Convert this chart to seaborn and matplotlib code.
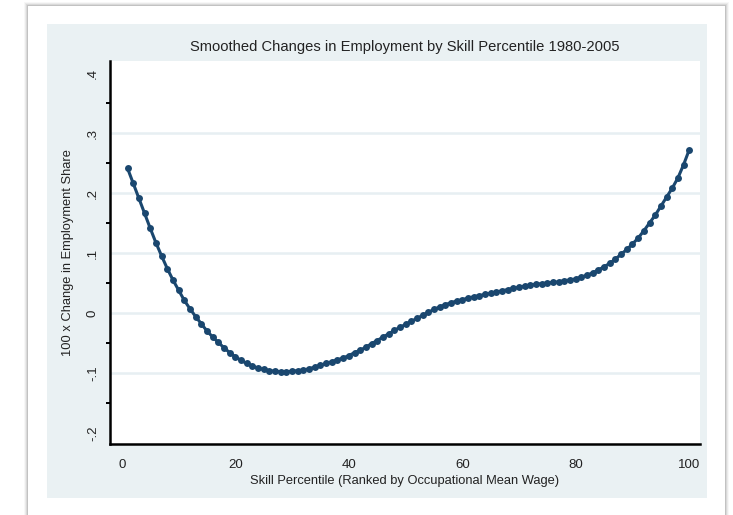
import numpy as np
import pandas as pd
import matplotlib
matplotlib.use("Agg")
import matplotlib.pyplot as plt
from matplotlib.patches import Rectangle
from matplotlib.ticker import MultipleLocator, FixedLocator
import seaborn as sns

# Skill percentile (1..100) and smoothed change in employment share (x100)
percentile = list(range(1, 101))
change_share = [
    0.241, 0.216, 0.191, 0.166, 0.141, 0.117, 0.095, 0.074, 0.055, 0.038,
    0.021, 0.007, -0.006, -0.018, -0.030, -0.040, -0.049, -0.058, -0.066, -0.073,
    -0.079, -0.084, -0.088, -0.092, -0.094, -0.096, -0.097, -0.098, -0.098, -0.097,
    -0.096, -0.095, -0.093, -0.090, -0.087, -0.084, -0.081, -0.078, -0.075, -0.071,
    -0.066, -0.062, -0.057, -0.051, -0.046, -0.040, -0.035, -0.029, -0.024, -0.019,
    -0.014, -0.009, -0.004, 0.001, 0.006, 0.010, 0.014, 0.017, 0.020, 0.022,
    0.025, 0.027, 0.029, 0.031, 0.033, 0.035, 0.037, 0.039, 0.041, 0.043,
    0.045, 0.046, 0.048, 0.049, 0.050, 0.051, 0.052, 0.054, 0.055, 0.057,
    0.060, 0.063, 0.067, 0.072, 0.077, 0.083, 0.090, 0.098, 0.106, 0.115,
    0.125, 0.137, 0.150, 0.163, 0.178, 0.193, 0.208, 0.225, 0.247, 0.272,
]

y_ticks = [-0.2, -0.1, 0.0, 0.1, 0.2, 0.3, 0.4]
y_tick_labels = ["-.2", "-.1", "0", ".1", ".2", ".3", ".4"]
grid_levels = [-0.1, 0.0, 0.1, 0.2, 0.3]
x_ticks = [0, 20, 40, 60, 80, 100]

title = "Smoothed Changes in Employment by Skill Percentile 1980-2005"
x_label = "Skill Percentile (Ranked by Occupational Mean Wage)"
y_label = "100 x Change in Employment Share"

df = pd.DataFrame({"pct": percentile, "chg": change_share})

sns.set_style("white")
plt.rcParams["font.family"] = ["Liberation Sans", "DejaVu Sans"]

W, H = 733, 515
fig = plt.figure(figsize=(W / 100, H / 100), dpi=100)
fig.patch.set_facecolor("white")


def fx(px):
    return px / W


def fy(py):
    return 1 - py / H


# card with a soft shadow
for i, a in enumerate([0.03, 0.05, 0.07, 0.10]):
    off = 4 - i
    fig.patches.append(Rectangle((fx(28 - off), fy(530)), fx(725 - 28 + 2 * off),
                                 (530 - 6 + off) / H, transform=fig.transFigure,
                                 facecolor=(0, 0, 0, a), edgecolor="none", zorder=0))
fig.patches.append(Rectangle((fx(28), fy(530)), fx(725 - 28), (530 - 6) / H,
                             transform=fig.transFigure, facecolor="white",
                             edgecolor="none", zorder=0.1))
# graph region
fig.patches.append(Rectangle((fx(47), fy(498)), fx(707 - 47), (498 - 24) / H,
                             transform=fig.transFigure, facecolor="#eaf1f3",
                             edgecolor="none", zorder=0.2))

ax = fig.add_axes([fx(110), fy(444), fx(700 - 110), (444 - 61) / H])
ax.set_facecolor("white")
ax.set_zorder(1)

for g in grid_levels:
    ax.axhline(g, color="#e7eff2", lw=1.8, zorder=0)

sns.lineplot(data=df, x="pct", y="chg", ax=ax, color="#1a476f", lw=2.2,
             marker="o", markersize=5, markeredgewidth=0, zorder=3)

ax.set_xlim(-2.1, 101.9)
ax.set_ylim(-0.2183, 0.42)

ax.xaxis.set_major_locator(FixedLocator(x_ticks))
ax.set_xticklabels([str(t) for t in x_ticks])
ax.yaxis.set_major_locator(FixedLocator(y_ticks))
ax.set_yticklabels(y_tick_labels, rotation=90, va="center")
ax.yaxis.set_minor_locator(MultipleLocator(0.05))

for side in ["top", "right"]:
    ax.spines[side].set_visible(False)
for side in ["left", "bottom"]:
    ax.spines[side].set_color("black")
    ax.spines[side].set_linewidth(1.8)

ax.tick_params(axis="both", which="major", direction="out", length=5, width=1.6,
               color="black", labelsize=9.5, labelcolor="#222222", pad=3)
ax.tick_params(axis="x", which="major", pad=6)
ax.tick_params(axis="y", which="minor", direction="out", length=3, width=1.4,
               color="black", left=True)
ax.tick_params(axis="x", which="minor", bottom=False)

ax.set_xlabel(x_label, fontsize=9.3, color="#222222", labelpad=3)
ax.set_ylabel(y_label, fontsize=9.3, color="#222222", labelpad=9)
ax.set_title(title, fontsize=10.6, color="#222222", pad=7)

fig.savefig("out.png", dpi=100, facecolor=fig.get_facecolor())
